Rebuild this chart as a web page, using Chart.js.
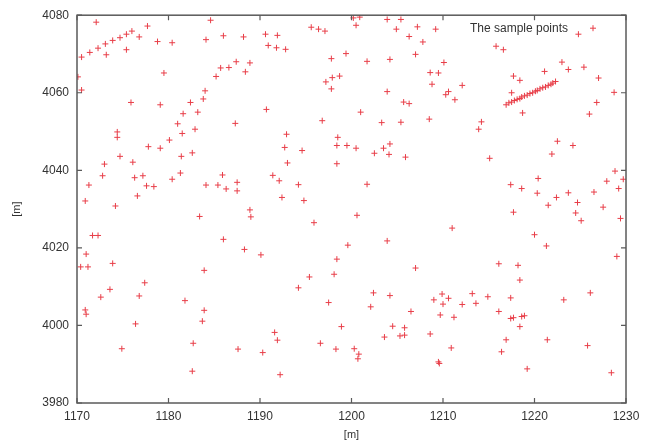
<!DOCTYPE html>
<html lang="en">

<head>
    <meta charset="UTF-8">
    <title>The sample points</title>
    <script src="https://cdn.jsdelivr.net/npm/chart.js"></script>
    <style>
        html, body {
            margin: 0;
            padding: 0;
            background: #ffffff;
        }
        canvas {
            display: block;
        }
    </style>
</head>

<body>
    <canvas id="samplesChart" width="655" height="443"></canvas>

    <script>
        // sample point coordinates, in metres
        const sampleX = [
            1172.1, 1177.7, 1170.5, 1171.4, 1172.3, 1173.1, 1173.9, 1174.7, 1175.4, 1176.0,
            1176.8, 1173.2, 1175.4, 1178.8, 1180.4, 1184.1, 1170.1, 1170.5, 1179.5, 1184.0,
            1175.9, 1179.1, 1182.4, 1183.8, 1181.6, 1183.2, 1181.0, 1181.5, 1182.9, 1174.4,
            1174.4, 1180.1, 1177.8, 1179.1, 1174.7, 1181.4, 1182.6, 1173.0, 1176.1, 1172.8,
            1176.3, 1177.2, 1180.4, 1181.3, 1171.3, 1177.6, 1178.4, 1184.1, 1176.6, 1170.9,
            1174.2,
            1184.6, 1186.0, 1188.2, 1190.6, 1191.9, 1190.9, 1191.8, 1192.8, 1195.6, 1196.4,
            1197.1, 1197.8, 1199.4, 1187.4, 1188.9, 1185.7, 1186.6, 1188.4, 1185.2, 1197.2,
            1197.9, 1198.7, 1197.8, 1190.7, 1187.3, 1196.8, 1192.9, 1192.7, 1194.6, 1198.5,
            1198.4, 1199.5, 1193.0, 1198.4, 1185.9, 1191.4, 1192.1, 1194.2, 1187.5, 1185.4,
            1186.3, 1187.5, 1192.4, 1194.8,
            1200.2, 1200.9, 1203.9, 1205.4, 1200.5, 1204.9, 1207.2, 1209.2, 1206.3, 1207.8,
            1207.0, 1201.7, 1204.2, 1210.1, 1208.6, 1209.5, 1208.8, 1212.1, 1203.9, 1210.6,
            1210.3, 1211.3, 1205.7, 1206.3, 1201.0, 1203.3, 1205.4, 1208.5, 1214.2, 1213.9,
            1200.5, 1202.5, 1203.5, 1204.2, 1204.1, 1205.9, 1215.1, 1201.7,
            1224.8, 1215.8, 1216.6, 1223.0, 1223.7, 1225.4, 1221.1, 1217.7, 1218.4, 1227.0,
            1228.7, 1226.8, 1226.0, 1218.7, 1217.5, 1222.5, 1224.2, 1221.9, 1228.8, 1229.7,
            1227.9, 1220.4, 1217.4, 1218.6, 1220.3, 1222.4, 1223.7, 1226.5, 1229.2, 1221.5,
            1224.7, 1227.5,
            1216.9, 1217.2, 1217.5, 1217.8, 1218.1, 1218.4, 1218.6, 1218.9, 1219.2, 1219.5,
            1219.8, 1220.1, 1220.3, 1220.6, 1220.9, 1221.2, 1221.5, 1221.8, 1222.0, 1222.3,
            1183.4, 1171.7, 1172.3, 1171.0, 1170.4, 1171.2, 1173.9, 1183.9, 1177.4, 1173.6,
            1172.6, 1176.8, 1181.8, 1170.9, 1171.0, 1183.9, 1183.7, 1176.4, 1182.7, 1174.9,
            1182.6,
            1188.9, 1189.0, 1195.9, 1186.0, 1188.3, 1190.1, 1199.6, 1198.4, 1198.1, 1195.4,
            1194.2, 1197.5, 1198.9, 1191.6, 1191.9, 1196.6, 1198.3, 1187.6, 1190.3, 1192.2,
            1200.6, 1211.0, 1203.9, 1207.0, 1202.4, 1204.2, 1202.1, 1206.5, 1209.9, 1209.0,
            1210.6, 1210.0, 1213.2, 1212.1, 1213.6, 1214.9, 1209.7, 1211.2, 1204.5, 1205.8,
            1203.6, 1205.3, 1205.8, 1208.6, 1210.9, 1200.3, 1200.8, 1200.7, 1209.5, 1209.6,
            1217.7, 1224.5, 1225.1, 1229.4, 1220.0, 1221.3, 1229.0, 1216.1, 1218.2, 1218.4,
            1217.4, 1223.2, 1226.1, 1216.1, 1217.4, 1217.7, 1218.6, 1218.9, 1218.4, 1216.9,
            1221.4, 1225.8, 1216.4, 1219.2, 1228.4
        ];

        const sampleY = [
            4078.2, 4077.2, 4069.2, 4070.4, 4071.5, 4072.6, 4073.5, 4074.2, 4075.1, 4075.9,
            4074.4, 4069.8, 4071.1, 4073.2, 4072.9, 4073.7, 4064.1, 4060.7, 4065.1, 4060.5,
            4057.5, 4056.9, 4057.5, 4058.4, 4054.6, 4055.0, 4052.0, 4049.5, 4050.6, 4049.9,
            4048.5, 4047.8, 4046.1, 4045.7, 4043.6, 4043.6, 4044.5, 4041.6, 4042.1, 4038.6,
            4038.1, 4038.6, 4037.7, 4039.3, 4036.2, 4036.0, 4035.8, 4036.2, 4033.4, 4032.1,
            4030.8,
            4078.7, 4074.7, 4074.4, 4075.1, 4074.8, 4072.2, 4071.6, 4071.2, 4076.9, 4076.4,
            4075.9, 4068.8, 4070.1, 4068.0, 4067.7, 4066.4, 4066.5, 4065.4, 4064.2, 4062.8,
            4063.9, 4064.3, 4061.0, 4055.7, 4052.1, 4052.8, 4049.3, 4045.9, 4045.1, 4048.5,
            4046.4, 4046.4, 4041.9, 4041.7, 4038.8, 4038.7, 4037.3, 4036.3, 4036.9, 4036.2,
            4035.2, 4034.7, 4033.0, 4032.2,
            4079.3, 4079.5, 4078.9, 4078.9, 4077.4, 4076.4, 4077.0, 4076.4, 4074.5, 4073.1,
            4069.9, 4068.1, 4068.6, 4067.8, 4065.2, 4065.1, 4062.2, 4061.9, 4060.3, 4060.3,
            4059.5, 4058.2, 4057.6, 4057.2, 4055.0, 4052.3, 4052.4, 4053.2, 4052.5, 4050.6,
            4045.7, 4044.4, 4045.7, 4046.8, 4044.1, 4043.4, 4043.1, 4036.4,
            4075.1, 4072.0, 4071.1, 4067.9, 4066.0, 4066.6, 4065.5, 4064.3, 4063.2, 4063.8,
            4060.1, 4057.5, 4054.5, 4054.8, 4060.0, 4047.5, 4046.4, 4044.2, 4039.8, 4037.7,
            4037.2, 4037.9, 4036.3, 4035.3, 4034.1, 4033.0, 4034.2, 4034.4, 4035.3, 4031.0,
            4031.7, 4030.5,
            4056.9, 4057.4, 4057.6, 4058.0, 4058.3, 4058.5, 4058.9, 4059.2, 4059.4, 4059.8,
            4060.0, 4060.4, 4060.6, 4061.0, 4061.3, 4061.5, 4061.9, 4062.2, 4062.5, 4062.9,
            4028.1, 4023.2, 4023.2, 4018.4, 4015.1, 4015.1, 4016.0, 4014.2, 4011.0, 4009.3,
            4007.3, 4007.6, 4006.4, 4004.0, 4002.9, 4003.9, 4001.1, 4000.4, 3995.4, 3994.0,
            3988.2,
            4029.8, 4028.0, 4026.5, 4022.2, 4019.6, 4018.2, 4020.7, 4017.1, 4013.2, 4012.5,
            4009.7, 4005.9, 3999.7, 3998.2, 3996.2, 3995.4, 3993.9, 3993.9, 3993.0, 3987.3,
            4028.4, 4025.1, 4021.8, 4014.8, 4008.4, 4007.7, 4004.8, 4003.6, 4008.1, 4006.6,
            4007.0, 4005.5, 4008.2, 4005.4, 4005.7, 4007.4, 4002.7, 4002.1, 3999.8, 3999.4,
            3997.0, 3997.3, 3997.5, 3997.8, 3994.2, 3994.0, 3992.6, 3991.4, 3990.6, 3990.2,
            4029.2, 4029.0, 4027.0, 4027.6, 4023.4, 4020.5, 4017.8, 4015.9, 4015.5, 4011.7,
            4007.1, 4006.6, 4008.4, 4003.6, 4001.8, 4002.0, 4002.3, 4002.5, 3999.7, 3996.3,
            3996.3, 3994.8, 3993.2, 3988.8, 3987.8
        ];

        const xTickValues = [1170, 1180, 1190, 1200, 1210, 1220, 1230];
        const yTickValues = [3980, 4000, 4020, 4040, 4060, 4080];
        const seriesLabel = 'The sample points';
        const axisTitle = '[m]';

        const pointColor = 'rgb(232, 62, 72)';
        const frameColor = '#5a5a5a';
        const textColor = '#333333';
        const fontFamily = '"Liberation Sans", Arial, sans-serif';

        const points = sampleX.map((x, i) => ({ x: x, y: sampleY[i] }));

        // plain integers, no thousands separator
        const plainTick = value => String(value);

        // gnuplot-like box: frame, inward ticks on all four sides, key at top right
        const framePlugin = {
            id: 'frame',
            afterDraw(chart) {
                const ctx = chart.ctx;
                const area = chart.chartArea;
                const xs = chart.scales.x;
                const ys = chart.scales.y;
                const tick = 5;

                ctx.save();
                ctx.strokeStyle = frameColor;
                ctx.lineWidth = 1.5;
                ctx.strokeRect(area.left, area.top, area.right - area.left, area.bottom - area.top);

                ctx.lineWidth = 1.2;
                ctx.beginPath();
                xs.ticks.forEach(t => {
                    const px = xs.getPixelForValue(t.value);
                    ctx.moveTo(px, area.bottom);
                    ctx.lineTo(px, area.bottom - tick);
                    ctx.moveTo(px, area.top);
                    ctx.lineTo(px, area.top + tick);
                });
                ys.ticks.forEach(t => {
                    const py = ys.getPixelForValue(t.value);
                    ctx.moveTo(area.left, py);
                    ctx.lineTo(area.left + tick, py);
                    ctx.moveTo(area.right, py);
                    ctx.lineTo(area.right - tick, py);
                });
                ctx.stroke();

                // key
                const keyY = area.top + 13;
                const markX = area.right - 33;
                ctx.font = '12px ' + fontFamily;
                ctx.fillStyle = textColor;
                ctx.textAlign = 'right';
                ctx.textBaseline = 'middle';
                ctx.fillText(chart.data.datasets[0].label, markX - 25, keyY);

                ctx.strokeStyle = pointColor;
                ctx.lineWidth = 1;
                ctx.beginPath();
                ctx.moveTo(markX - 3, keyY);
                ctx.lineTo(markX + 3, keyY);
                ctx.moveTo(markX, keyY - 3);
                ctx.lineTo(markX, keyY + 3);
                ctx.stroke();
                ctx.restore();
            }
        };

        const ctxSamples = document.getElementById('samplesChart').getContext('2d');
        new Chart(ctxSamples, {
            type: 'scatter',
            data: {
                datasets: [{
                    label: seriesLabel,
                    data: points,
                    pointStyle: 'cross',
                    pointRadius: 3,
                    pointBorderWidth: 1,
                    borderColor: pointColor,
                    backgroundColor: pointColor
                }]
            },
            options: {
                responsive: false,
                animation: false,
                layout: {
                    padding: { top: 9, right: 29, left: 0, bottom: 0 }
                },
                plugins: {
                    legend: { display: false },
                    tooltip: { enabled: false }
                },
                scales: {
                    x: {
                        type: 'linear',
                        min: 1170,
                        max: 1230,
                        afterBuildTicks: scale => {
                            scale.ticks = xTickValues.map(v => ({ value: v }));
                        },
                        afterFit: scale => {
                            scale.height = 40;
                        },
                        grid: { display: false, drawTicks: false },
                        border: { display: false },
                        ticks: {
                            color: textColor,
                            padding: 6,
                            maxRotation: 0,
                            callback: plainTick,
                            font: { family: fontFamily, size: 12 }
                        },
                        title: {
                            display: true,
                            text: axisTitle,
                            color: textColor,
                            padding: { top: 0, bottom: 1 },
                            font: { family: fontFamily, size: 11 }
                        }
                    },
                    y: {
                        type: 'linear',
                        min: 3980,
                        max: 4080,
                        afterBuildTicks: scale => {
                            scale.ticks = yTickValues.map(v => ({ value: v }));
                        },
                        afterFit: scale => {
                            scale.width = 77;
                        },
                        grid: { display: false, drawTicks: false },
                        border: { display: false },
                        ticks: {
                            color: textColor,
                            padding: 8,
                            callback: plainTick,
                            font: { family: fontFamily, size: 12 }
                        },
                        title: {
                            display: true,
                            text: axisTitle,
                            color: textColor,
                            padding: { top: 10, bottom: 0 },
                            font: { family: fontFamily, size: 11 }
                        }
                    }
                }
            },
            plugins: [framePlugin]
        });
    </script>
</body>
</html>
